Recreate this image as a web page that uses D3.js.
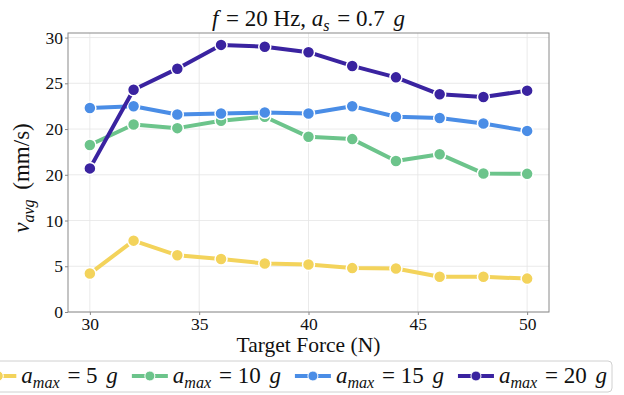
<!DOCTYPE html>
<html>
<head>
<meta charset="utf-8">
<script src="https://cdn.jsdelivr.net/npm/d3@7"></script>
<style>
  body { margin: 0; background: #fff; }
  svg text { font-family: "Liberation Serif", "DejaVu Serif", serif; }
</style>
</head>
<body>
<div id="chart"></div>
<script>
// chart values
const FORCES = [30, 32, 34, 36, 38, 40, 42, 44, 46, 48, 50];
const SERIES_NAMES = ["5", "10", "15", "20"];
const V_5G  = [4.2, 7.8, 6.2, 5.8, 5.3, 5.2, 4.8, 4.75, 3.85, 3.85, 3.65];
const V_10G = [18.25, 20.5, 20.1, 20.9, 21.35, 19.15, 18.9, 16.5, 17.25, 15.15, 15.1];
const V_15G = [22.3, 22.5, 21.6, 21.7, 21.8, 21.7, 22.5, 21.35, 21.2, 20.6, 19.8];
const V_20G = [15.7, 24.3, 26.6, 29.2, 29.0, 28.4, 26.9, 25.65, 23.8, 23.5, 24.2];
const X_TICKS = [30, 35, 40, 45, 50];
const Y_TICKS = [0, 5, 10, 15, 20, 25, 30];
const Y_TICK_LABELS = ["0", "5", "10", "20", "20", "25", "30"];

const COLORS = ["#f3d35b", "#6cc48b", "#4a8de6", "#3a23a0"];

// frame constants
const FRAME_WIDTH = 624;
const FRAME_HEIGHT = 395;
const MARGINS = {left: 68, right: 75, top: 33, bottom: 83};
const VIS_WIDTH = FRAME_WIDTH - MARGINS.left - MARGINS.right;
const VIS_HEIGHT = FRAME_HEIGHT - MARGINS.top - MARGINS.bottom;

const FRAME = d3.select("#chart")
  .append("svg")
  .attr("width", FRAME_WIDTH)
  .attr("height", FRAME_HEIGHT);

const X_SCALE = d3.scaleLinear().domain([29, 51]).range([0, VIS_WIDTH]);
const Y_SCALE = d3.scaleLinear().domain([0, 30.5]).range([VIS_HEIGHT, 0]);

const PLOT = FRAME.append("g")
  .attr("transform", "translate(" + MARGINS.left + "," + MARGINS.top + ")");

// grid
PLOT.append("g").selectAll("line")
  .data(X_TICKS).enter().append("line")
  .attr("x1", d => X_SCALE(d)).attr("x2", d => X_SCALE(d))
  .attr("y1", 0).attr("y2", VIS_HEIGHT)
  .attr("stroke", "#e4e4e4").attr("stroke-width", 0.8);
PLOT.append("g").selectAll("line")
  .data(Y_TICKS).enter().append("line")
  .attr("x1", 0).attr("x2", VIS_WIDTH)
  .attr("y1", d => Y_SCALE(d)).attr("y2", d => Y_SCALE(d))
  .attr("stroke", "#e4e4e4").attr("stroke-width", 0.8);

// axes
const xAxis = PLOT.append("g")
  .attr("transform", "translate(0," + VIS_HEIGHT + ")")
  .call(d3.axisBottom(X_SCALE).tickValues(X_TICKS).tickSize(3).tickPadding(3));
const yAxis = PLOT.append("g")
  .call(d3.axisLeft(Y_SCALE).tickValues(Y_TICKS).tickSize(3).tickPadding(2)
    .tickFormat((d, i) => Y_TICK_LABELS[i]));
[xAxis, yAxis].forEach(a => {
  a.attr("font-family", "Liberation Serif").attr("font-size", 17.5);
  a.select(".domain").remove();
  a.selectAll("line").attr("stroke", "#888");
  a.selectAll("text")
    .attr("font-family", "Liberation Serif")
    .attr("font-size", 17.5)
    .attr("fill", "#111");
});

// frame border
PLOT.append("rect")
  .attr("width", VIS_WIDTH).attr("height", VIS_HEIGHT)
  .attr("fill", "none").attr("stroke", "#8a8a8a").attr("stroke-width", 1);

// lines and points
const ALL_SERIES = [V_5G, V_10G, V_15G, V_20G];
const line = d3.line().x((d, i) => X_SCALE(FORCES[i])).y(d => Y_SCALE(d));
ALL_SERIES.forEach((vals, s) => {
  PLOT.append("path")
    .datum(vals)
    .attr("d", line)
    .attr("fill", "none")
    .attr("stroke", COLORS[s])
    .attr("stroke-width", 4)
    .attr("stroke-linejoin", "round");
  PLOT.append("g").selectAll("circle")
    .data(vals).enter().append("circle")
    .attr("cx", (d, i) => X_SCALE(FORCES[i]))
    .attr("cy", d => Y_SCALE(d))
    .attr("r", 6)
    .attr("fill", COLORS[s])
    .attr("stroke", "#fff")
    .attr("stroke-width", 1.5);
});

// helper for a math-like label: italic symbol, italic subscript, rest
function mathLabel(t, sym, sub, rest, tail, size) {
  t.append("tspan").attr("font-style", "italic").text(sym);
  t.append("tspan").attr("font-style", "italic")
    .attr("font-size", (size * 0.7) + "px").attr("dy", size * 0.2).text(sub);
  t.append("tspan").attr("dy", -size * 0.2).attr("dx", 2).text(rest);
  if (tail) t.append("tspan").attr("font-style", "italic").attr("dx", 3).text(tail);
}

// title
const title = FRAME.append("text")
  .attr("x", MARGINS.left + VIS_WIDTH / 2)
  .attr("y", 26)
  .attr("text-anchor", "middle")
  .attr("font-size", "23px")
  .attr("fill", "#111");
title.append("tspan").attr("font-style", "italic").text("f");
title.append("tspan").attr("dx", 2).text(" = 20 Hz, ");
mathLabel(title, "a", "s", " = 0.7 ", "g", 23);

// x label
FRAME.append("text")
  .attr("x", MARGINS.left + VIS_WIDTH / 2)
  .attr("y", 352)
  .attr("text-anchor", "middle")
  .attr("font-size", "21.5px")
  .attr("fill", "#111")
  .text("Target Force (N)");

// y label
const ylab = FRAME.append("text")
  .attr("transform", "translate(29,178) rotate(-90)")
  .attr("text-anchor", "middle")
  .attr("font-size", "23px")
  .attr("fill", "#111");
ylab.append("tspan").attr("font-style", "italic").text("v");
ylab.append("tspan").attr("font-style", "italic").attr("font-size", "16px").attr("dy", 5).text("avg");
ylab.append("tspan").attr("dy", -5).attr("dx", 4).text(" (mm/s)");

// legend
const LEG = FRAME.append("g");
const legBox = LEG.append("rect")
  .attr("y", 361).attr("height", 31).attr("rx", 4)
  .attr("fill", "#fff").attr("stroke", "#d0d0d0").attr("stroke-width", 1);
const ITEMS = LEG.append("g");
let cx = 0;
SERIES_NAMES.forEach((name, s) => {
  ITEMS.append("line")
    .attr("x1", cx).attr("x2", cx + 36)
    .attr("y1", 376).attr("y2", 376)
    .attr("stroke", COLORS[s]).attr("stroke-width", 4);
  ITEMS.append("circle")
    .attr("cx", cx + 18).attr("cy", 376).attr("r", 5)
    .attr("fill", COLORS[s]).attr("stroke", "#fff").attr("stroke-width", 1);
  const t = ITEMS.append("text")
    .attr("x", cx + 41).attr("y", 383)
    .attr("font-size", "23px").attr("fill", "#111");
  mathLabel(t, "a", "max", " = " + name + " ", "g", 23);
  cx = t.node().getBBox().x + t.node().getBBox().width + 14;
});
// align the last label's right end with the reference
const shift = 607 - (cx - 14);
ITEMS.attr("transform", "translate(" + shift + ",0)");
legBox.attr("x", shift - 30).attr("width", 612 - (shift - 30));
</script>
</body>
</html>
